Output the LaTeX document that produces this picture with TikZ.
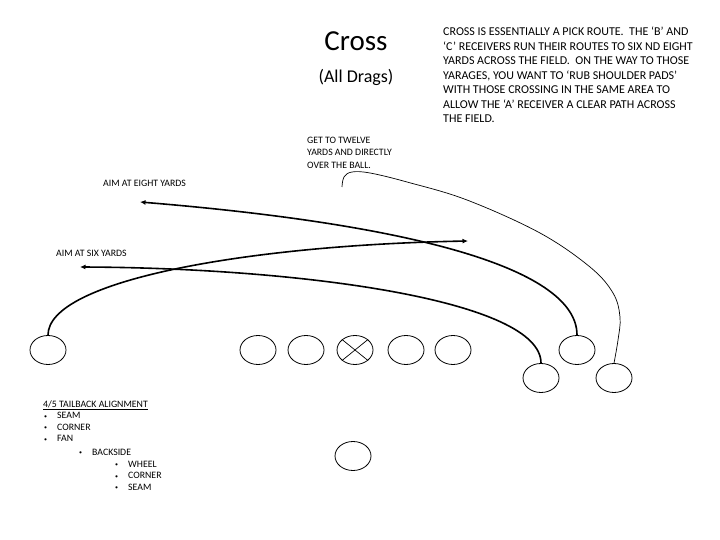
\documentclass[tikz,border=0pt]{standalone}
\usepackage{fontspec}
\setmainfont{Carlito}
\usetikzlibrary{shapes.geometric,arrows.meta}
\newcommand{\smallbul}{\makebox[13pt][l]{{\fontsize{6}{6}\selectfont\raisebox{0.6pt}{•}}}}
\tikzset{
  player/.style={draw, ellipse, minimum width=36pt, minimum height=29pt, inner sep=0pt, line width=0.8pt},
  route/.style={line width=1.6pt, line cap=round},
  thinroute/.style={line width=0.7pt},
  tip/.style={-{Latex[length=5.5pt,width=5pt]}},
  lbl/.style={inner sep=0pt, font=\fontsize{9.8}{12.3}\selectfont, align=left},
}
\begin{document}
\begin{tikzpicture}[x=1pt,y=-1pt]
\useasboundingbox (0,0) rectangle (720,540);
% players
\node[player] (WR) at (48,350) {};
\node[player] (G1) at (258,350) {};
\node[player] (G2) at (306,350) {};
\node[player] (C) at (355,350) {};
\node[player] (G4) at (406,350) {};
\node[player] (G5) at (453,350) {};
\node[player] (R3) at (541,378) {};
\node[player] (R4) at (577,350) {};
\node[player] (TE) at (614,378) {};
\node[player] (TB) at (353,456) {};
\draw[line width=0.7pt] (C.north east) -- (C.south west) (C.north west) -- (C.south east);
% route ends
\coordinate (A1) at (468,241);
\coordinate (A2) at (80,267);
\coordinate (A3) at (140,202);
\coordinate (H) at (342,187);
% routes
\draw[route,tip] (WR.north) .. controls (48,280) and (250,245) .. (A1);
\draw[route,tip] (R3.north) .. controls (541,300) and (300,268) .. (A2);
\draw[route,tip] (R4.north) .. controls (577,270) and (420,225) .. (A3);
\draw[thinroute] plot[smooth, tension=0.6] coordinates {(TE.north) (618,340) (620,317) (613,293) (590,267) (540,233) (467,200) (407,182) (370,173) (352,172) (344,177) (H)};
% texts
\node[inner sep=0pt, anchor=base, font=\fontsize{29}{34}\selectfont] (title) at (356,51) {Cross};
\node[inner sep=0pt, anchor=base, font=\fontsize{18}{22}\selectfont] (sub) at (356,83) {(All Drags)};
\node[inner sep=0pt, anchor=north west, align=left, font=\fontsize{12}{14.5}\selectfont] (para) at (443,27) {CROSS IS ESSENTIALLY A PICK ROUTE.\ \ THE ‘B’ AND\\
‘C’ RECEIVERS RUN THEIR ROUTES TO SIX ND EIGHT\\
YARDS ACROSS THE FIELD.\ \ ON THE WAY TO THOSE\\
YARAGES, YOU WANT TO ‘RUB SHOULDER PADS’\\
WITH THOSE CROSSING IN THE SAME AREA TO\\
ALLOW THE ‘A’ RECEIVER A CLEAR PATH ACROSS\\
THE FIELD.};
\node[lbl, anchor=north west] (twelve) at (307,137) {GET TO TWELVE\\YARDS AND DIRECTLY\\OVER THE BALL.};
\node[lbl, anchor=west] (eight) at (103,183) {AIM AT EIGHT YARDS};
\node[lbl, anchor=west] (six) at (56,253) {AIM AT SIX YARDS};
\node[lbl, anchor=north west, font=\fontsize{9.8}{11.6}\selectfont] (tail) at (43,400) {\underline{4/5 TAILBACK ALIGNMENT}\\
\hspace*{1pt}\smallbul SEAM\\
\hspace*{1pt}\smallbul CORNER\\
\hspace*{1pt}\smallbul FAN\\[2pt]
\hspace*{36pt}\smallbul BACKSIDE\\
\hspace*{72pt}\smallbul WHEEL\\
\hspace*{72pt}\smallbul CORNER\\
\hspace*{72pt}\smallbul SEAM};
\end{tikzpicture}
\end{document}
